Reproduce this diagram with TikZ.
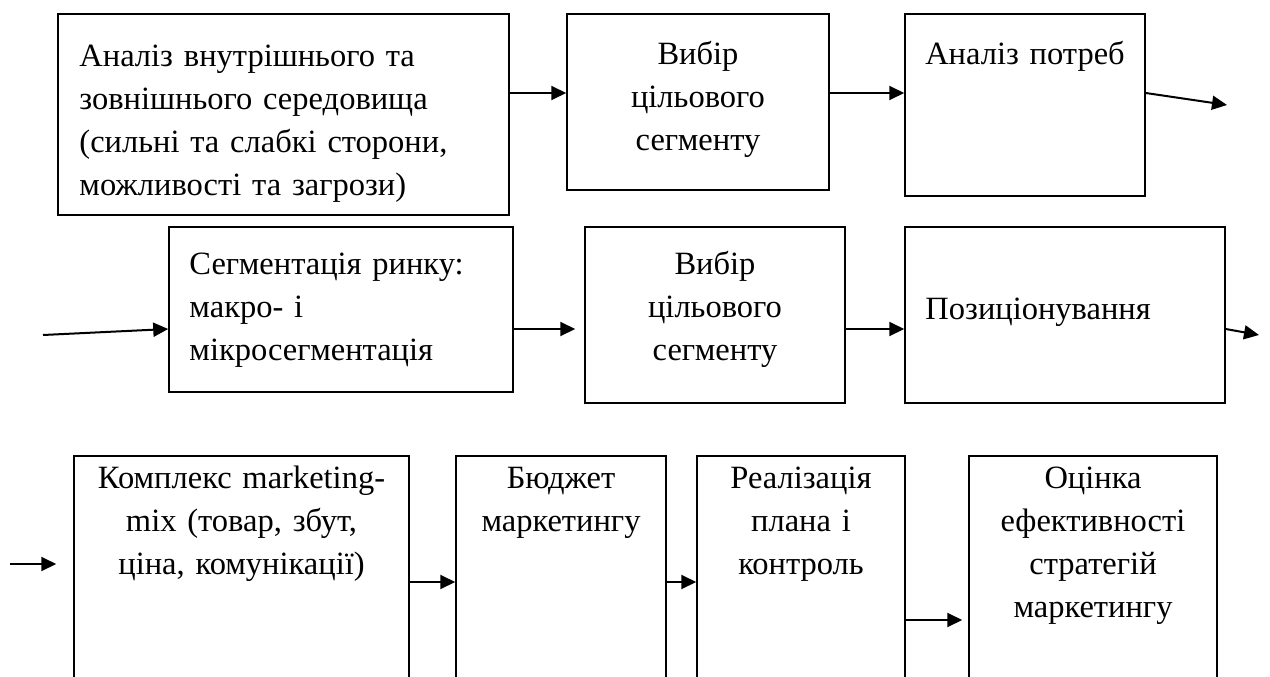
\documentclass[tikz,border=0pt]{standalone}
\usepackage{fontspec}
\setmainfont{Liberation Serif}
\usetikzlibrary{arrows.meta}
\tikzset{
  blok/.style={draw, line width=1.5pt, inner sep=0pt},
  napys/.style={inner sep=0pt, font=\fontsize{32.5}{43}\selectfont},
  strilka/.style={line width=2pt, -{Triangle[length=15pt,width=14pt]}}
}

\begin{document}
\begin{tikzpicture}[x=1pt,y=-1pt]
\useasboundingbox (0,0) rectangle (1270,677);
\clip (0,0) rectangle (1270,677);

\node[blok, minimum width=451pt, minimum height=201pt] (a1) at (283.5,114.5) {};
\node[blok, minimum width=262pt, minimum height=176pt] (b1) at (698,102) {};
\node[blok, minimum width=240pt, minimum height=182pt] (c1) at (1025,105) {};

\node[blok, minimum width=344pt, minimum height=165pt] (a2) at (341,309.5) {};
\node[blok, minimum width=260pt, minimum height=176pt] (b2) at (715,315) {};
\node[blok, minimum width=320pt, minimum height=176pt] (c2) at (1065,315) {};

\node[blok, minimum width=335pt, minimum height=244pt] (a3) at (241.5,578) {};
\node[blok, minimum width=210pt, minimum height=244pt] (b3) at (561,578) {};
\node[blok, minimum width=208pt, minimum height=244pt] (c3) at (801,578) {};
\node[blok, minimum width=248pt, minimum height=244pt] (d3) at (1093,578) {};

\node[napys, text width=430pt, align=left, anchor=base west] (a1t) at ([xshift=22pt,yshift=-53pt]a1.north west)
  {Аналіз внутрішнього та\\ зовнішнього середовища\\ (сильні та слабкі сторони,\\ можливості та загрози)};
\node[napys, text width=240pt, align=center, anchor=base] (b1t) at ([yshift=-51pt]b1.north) {Вибір\\ цільового\\ сегменту};
\node[napys, text width=230pt, align=center, anchor=base] (c1t) at ([yshift=-51pt]c1.north) {Аналіз потреб};

\node[napys, text width=320pt, align=left, anchor=base west] (a2t) at ([xshift=21pt,yshift=-48pt]a2.north west)
  {Сегментація ринку:\\ макро- і\\ мікросегментація};
\node[napys, text width=240pt, align=center, anchor=base] (b2t) at ([yshift=-48pt]b2.north) {Вибір\\ цільового\\ сегменту};
\node[napys, text width=290pt, align=left, anchor=base west] (c2t) at ([xshift=21pt,yshift=-93pt]c2.north west) {Позиціонування};

\node[napys, text width=330pt, align=center, anchor=base] (a3t) at ([yshift=-33pt]a3.north) {Комплекс marketing-\\ mix (товар, збут,\\ ціна, комунікації)};
\node[napys, text width=200pt, align=center, anchor=base] (b3t) at ([yshift=-33pt]b3.north) {Бюджет\\ маркетингу};
\node[napys, text width=200pt, align=center, anchor=base] (c3t) at ([yshift=-33pt]c3.north) {Реалізація\\ плана і\\ контроль};
\node[napys, text width=240pt, align=center, anchor=base] (d3t) at ([yshift=-33pt]d3.north) {Оцінка\\ ефективності\\ стратегій\\ маркетингу};

\coordinate (k1) at (1227,105);
\coordinate (k2) at (43,335);
\coordinate (k3) at (1259,335);
\coordinate (k4) at (10,564);

\coordinate (s1) at ([yshift=21.5pt]a1.east);
\coordinate (s2) at ([yshift=9pt]b1.east);
\coordinate (s3) at ([yshift=12pt]c1.east);
\draw[strilka] (s1) -- (s1 -| b1.west);
\draw[strilka] (s2) -- (s2 -| c1.west);
\draw[strilka] (s3) -- (k1);

\coordinate (s4) at ([yshift=-19.5pt]a2.east);
\coordinate (s5) at ([yshift=-14pt]b2.east);
\coordinate (s6) at ([yshift=-14pt]c2.east);
\draw[strilka] (k2) -- ([yshift=-19.5pt]a2.west);
\draw[strilka, shorten >=9pt] (s4) -- (s4 -| b2.west);
\draw[strilka] (s5) -- (s5 -| c2.west);
\draw[strilka] (s6) -- (k3);

\coordinate (s7) at ([yshift=-4pt]a3.east);
\coordinate (s8) at ([yshift=-4pt]b3.east);
\coordinate (s9) at ([yshift=-42pt]c3.east);
\draw[strilka, shorten >=17pt] (k4) -- (k4 -| a3.west);
\draw[strilka] (s7) -- (s7 -| b3.west);
\draw[strilka] (s8) -- (s8 -| c3.west);
\draw[strilka, shorten >=6pt] (s9) -- (s9 -| d3.west);
\end{tikzpicture}
\end{document}
